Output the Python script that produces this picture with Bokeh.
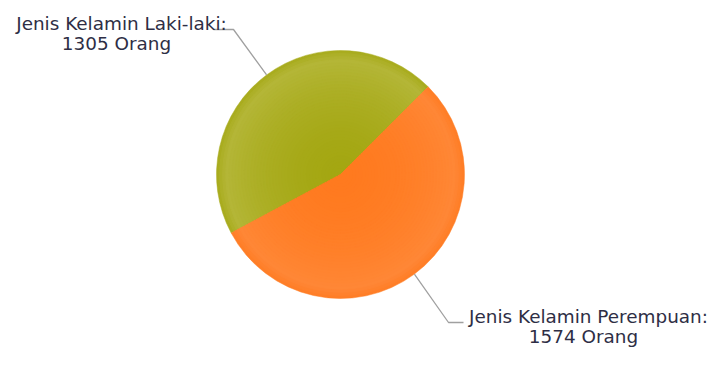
import math
from bokeh.plotting import figure
from bokeh.models import Range1d
from bokeh.core.properties import value
from bokeh.embed import file_html
from bokeh.resources import INLINE

# ---- data ----
categories = ["Jenis Kelamin Laki-laki", "Jenis Kelamin Perempuan"]
counts = [1305, 1574]
unit = "Orang"

# ---- layout / style ----
W, H = 720, 379
CX, CY, R = 340, H - 174, 124
START_DEG = 45.0
center_colors = ["#A4A712", "#FF7A1F"]
ring_colors = ["#B4B637", "#FF8736"]
edge_colors = ["#A9AC1F", "#FF7E27"]
label_pos = [(121, H - 23), (588, H - 316)]
line2_shift = -5
elbows = [(233, H - 29), (448, H - 322)]
elbow_ends = [(213, H - 29), (463, H - 322)]
font = "DejaVu Sans"
fsize = "18.4px"
text_color = "#2E2E45"


def hex2rgb(h):
    h = h.lstrip("#")
    return tuple(int(h[i:i + 2], 16) for i in (0, 2, 4))


def lerp(c1, c2, t):
    a, b = hex2rgb(c1), hex2rgb(c2)
    return "#%02x%02x%02x" % tuple(int(round(a[i] + (b[i] - a[i]) * t)) for i in range(3))


p = figure(width=W, height=H, x_range=Range1d(0, W), y_range=Range1d(0, H),
           output_backend="svg", toolbar_location=None, min_border=0)
p.axis.visible = False
p.grid.visible = False
p.outline_line_color = None
p.background_fill_color = "white"

total = float(sum(counts))
angles = []
a = START_DEG
for c in counts:
    span = c / total * 360.0
    angles.append((a, a + span))
    a += span

# gradient by concentric wedges (outer first)
steps = 40
for k in range(steps, 0, -1):
    f = k / steps
    r = R * f
    for i, (a0, a1) in enumerate(angles):
        if f > 0.93:
            col = lerp(ring_colors[i], edge_colors[i], (f - 0.93) / 0.07)
        else:
            col = lerp(center_colors[i], ring_colors[i], (f / 0.93) ** 2)
        p.wedge(x=[CX], y=[CY], radius=r, start_angle=math.radians(a0),
                end_angle=math.radians(a1), fill_color=col, line_color=col,
                line_width=1 if k < steps else 0.5)

# leader lines and labels
for i, (a0, a1) in enumerate(angles):
    mid = math.radians((a0 + a1) / 2)
    ex, ey = CX + R * math.cos(mid), CY + R * math.sin(mid)
    xs = [ex, elbows[i][0], elbow_ends[i][0]]
    ys = [ey, elbows[i][1], elbow_ends[i][1]]
    p.line(xs, ys, line_color="#A0A0A0", line_width=1.3)
    lx, ly = label_pos[i]
    p.text(x=[lx], y=[ly], text=[categories[i] + ":"], text_font=value(font),
           text_font_size=fsize, text_color=text_color, text_align="center",
           text_baseline="middle")
    p.text(x=[lx + line2_shift], y=[ly - 20], text=["%d %s" % (counts[i], unit)],
           text_font=value(font), text_font_size=fsize, text_color=text_color,
           text_align="center", text_baseline="middle")

open("out.html", "w").write(file_html(p, INLINE))
